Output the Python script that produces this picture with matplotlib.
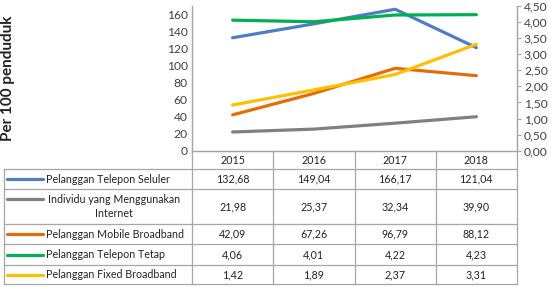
import matplotlib
matplotlib.use("Agg")
import matplotlib.pyplot as plt
from matplotlib.lines import Line2D

plt.rcParams["font.family"] = ["Lato", "DejaVu Sans"]

years = ["2015", "2016", "2017", "2018"]
series_names = [
    "Pelanggan Telepon Seluler",
    "Individu yang Menggunakan\nInternet",
    "Pelanggan Mobile Broadband",
    "Pelanggan Telepon Tetap",
    "Pelanggan Fixed Broadband",
]
seluler = [132.68, 149.04, 166.17, 121.04]
internet = [21.98, 25.37, 32.34, 39.90]
mobile_bb = [42.09, 67.26, 96.79, 88.12]
telepon_tetap = [4.06, 4.01, 4.22, 4.23]
fixed_bb = [1.42, 1.89, 2.37, 3.31]
left_ticks = [0, 20, 40, 60, 80, 100, 120, 140, 160]
right_ticks = [0, 0.5, 1.0, 1.5, 2.0, 2.5, 3.0, 3.5, 4.0, 4.5]

series = [seluler, internet, mobile_bb, telepon_tetap, fixed_bb]
on_right = [False, False, False, True, True]
colors = ["#4F7CC2", "#808080", "#E46C0A", "#00B050", "#FFC000"]

W, H = 554, 287
GRID = "#A6A6A6"
FS = 7.7     # table text
TFS = 8.7    # axis tick labels


def fx(x):
    return x / W


def fy(y):
    return 1 - y / H


def comma(v):
    return f"{v:.2f}".replace(".", ",")


fig = plt.figure(figsize=(W / 100, H / 100), dpi=100)

# plot area in pixel geometry
x0, x1, ytop, ybot = 192, 517, 6, 150.7
ax = fig.add_axes([fx(x0), fy(ybot), fx(x1) - fx(x0), fy(ytop) - fy(ybot)])
ax2 = ax.twinx()

xs = list(range(len(years)))
for vals, right, c in zip(series, on_right, colors):
    (ax2 if right else ax).plot(xs, vals, color=c, lw=2.3, solid_capstyle="round")

ax.set_xlim(-0.5, len(years) - 0.5)
ax.set_ylim(0, 170)
ax.set_yticks(left_ticks)
ax.set_yticklabels([str(t) for t in left_ticks], fontsize=TFS, color="#404040")
ax.tick_params(axis="y", length=0, pad=3)
ax.set_xticks([])
ax2.set_ylim(0, 4.5)
ax2.set_yticks(right_ticks)
ax2.set_yticklabels([comma(t) for t in right_ticks], fontsize=TFS, color="#404040")
ax2.tick_params(axis="y", length=3, width=0.8, color=GRID, pad=2)
for a in (ax, ax2):
    a.spines["top"].set_visible(False)
    for s in ("left", "right", "bottom"):
        a.spines[s].set_color(GRID)
        a.spines[s].set_linewidth(0.9)
    a.patch.set_visible(False)

fig.text(fx(8), fy(78), "Per 100 penduduk", rotation=90, ha="center", va="center",
         fontsize=11, fontweight="bold", color="#222222")


def hline(xa, xb, y):
    fig.add_artist(Line2D([fx(xa), fx(xb)], [fy(y), fy(y)], color=GRID, lw=0.9))


def vline(x, ya, yb):
    fig.add_artist(Line2D([fx(x), fx(x)], [fy(ya), fy(yb)], color=GRID, lw=0.9))


# data table below the axis
col_w = (x1 - x0) / len(years)
col_edges = [x0 + i * col_w for i in range(len(years) + 1)]
row_edges = [150.7, 169.3, 189.3, 224.3, 244.3, 265, 284]
tab_left = 4

for y in row_edges[1:]:
    hline(tab_left, x1, y)
for x in col_edges:
    vline(x, row_edges[0], row_edges[-1])
vline(tab_left, row_edges[1], row_edges[-1])

for j, yr in enumerate(years):
    fig.text(fx(x0 + (j + 0.5) * col_w), fy((row_edges[0] + row_edges[1]) / 2), yr,
             ha="center", va="center", fontsize=FS, color="#222222")

for i, (name, vals, c) in enumerate(zip(series_names, series, colors)):
    yc = (row_edges[i + 1] + row_edges[i + 2]) / 2
    key_y = yc if "\n" not in name else row_edges[i + 1] + 10
    fig.add_artist(Line2D([fx(7), fx(43)], [fy(key_y), fy(key_y)], color=c, lw=2.3,
                          solid_capstyle="round"))
    if "\n" in name:
        fig.text(fx(114), fy(yc), name, ha="center", va="center", multialignment="center",
                 fontsize=FS, color="#222222", linespacing=1.3)
    else:
        fig.text(fx(46), fy(yc), name, ha="left", va="center", fontsize=FS, color="#222222")
    for j, v in enumerate(vals):
        fig.text(fx(x0 + (j + 0.5) * col_w), fy(yc), comma(v), ha="center", va="center",
                 fontsize=FS, color="#222222")

fig.savefig("out.png", dpi=100)
